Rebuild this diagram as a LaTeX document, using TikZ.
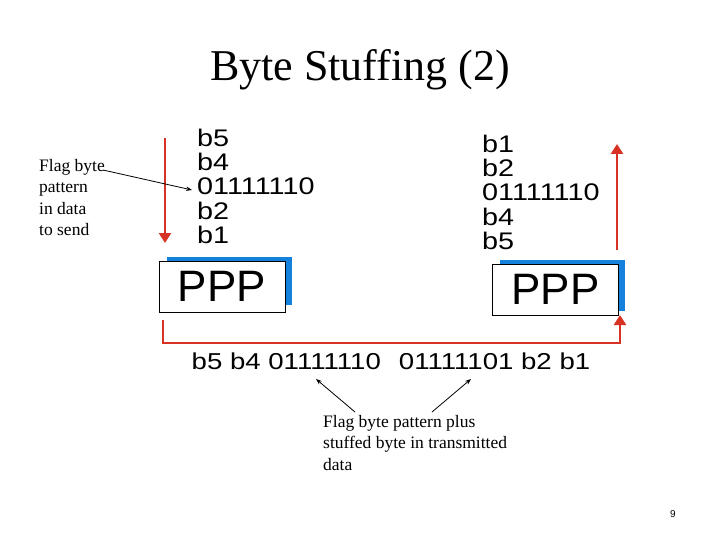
\documentclass[tikz,border=0pt]{standalone}
\usepackage{fontspec}
\setmainfont{Liberation Serif}
\newfontfamily\sansf{Liberation Sans}
\newfontfamily\widef[FakeStretch=1.2]{Liberation Sans}
\usetikzlibrary{arrows.meta}
\definecolor{redarr}{RGB}{215,50,35}
\definecolor{bluebk}{RGB}{20,130,220}
\begin{document}
\begin{tikzpicture}[x=1pt,y=-1pt,
  redline/.style={draw=redarr,line width=2.8pt,-{Triangle[length=10pt,width=12pt]}},
  blk/.style={-{Stealth[length=6pt]},line width=0.8pt},
  bits/.style={font=\widef\fontsize{24}{24.2}\selectfont,align=left,anchor=north west,inner sep=0pt},
  note/.style={font=\fontsize{17.5}{21.5}\selectfont,align=left,anchor=north west,inner sep=0pt},
  pppbox/.style={draw=black,line width=1pt,fill=white,minimum width=126pt,minimum height=51pt,inner sep=0pt,font=\sansf\fontsize{44}{44}\selectfont}]
\useasboundingbox (0,0) rectangle (720,540);
\node (title) at (360,70) {\fontsize{44}{48}\selectfont Byte Stuffing (2)};
\fill[bluebk] (167,257) rectangle (292,305);
\node[pppbox] (pl) at (222,286.5) {PPP};
\fill[bluebk] (500,260) rectangle (625,311);
\node[pppbox] (pr) at (555.5,289.5) {PPP};
\coordinate (l1) at (165,138); \coordinate (l2) at (165,243);
\draw[redline] (l1) -- (l2);
\coordinate (r1) at (617,250); \coordinate (r2) at (617,144);
\draw[redline] (r1) -- (r2);
\coordinate (b1) at (163,320); \coordinate (b2) at (620,315);
\draw[redline] (b1) |- (620,343) -- (b2);
\node[bits] (lt) at (197,129) {b5\\b4\\01111110\\b2\\b1};
\node[bits] (rt) at (482,135) {b1\\b2\\01111110\\b4\\b5};
\node[font=\widef\fontsize{23}{24}\selectfont,inner sep=0pt] (bt) at (391,361) {b5 b4 01111110\hspace{18pt}01111101 b2 b1};
\node[note] (ln) at (39,159) {Flag byte\\pattern\\in data\\to send};
\node[note] (bn) at (323,415) {Flag byte pattern plus\\stuffed byte in transmitted\\data};
\coordinate (a1) at (103,170); \coordinate (a1e) at (192,190);
\draw[blk] (a1) -- (a1e);
\coordinate (a2) at (355,412); \coordinate (a2e) at (316,379);
\draw[blk] (a2) -- (a2e);
\coordinate (a3) at (432,412); \coordinate (a3e) at (471,379);
\draw[blk] (a3) -- (a3e);
\node[font=\sansf\fontsize{10}{12}\selectfont] (pg) at (673,514) {9};
\end{tikzpicture}
\end{document}
